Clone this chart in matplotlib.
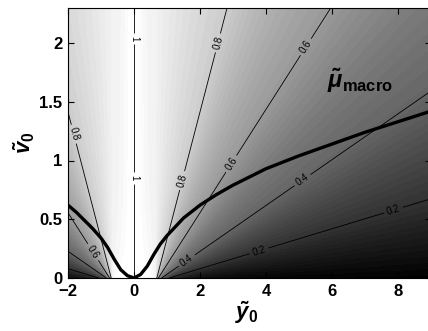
import numpy as np
import matplotlib
matplotlib.use('Agg')
import matplotlib.pyplot as plt

plt.rcParams['font.family'] = ['Liberation Sans', 'DejaVu Sans']
plt.rcParams['font.weight'] = 'bold'
plt.rcParams['mathtext.fontset'] = 'custom'
plt.rcParams['mathtext.rm'] = 'Liberation Sans:bold'
plt.rcParams['mathtext.it'] = 'Liberation Sans:italic:bold'
plt.rcParams['mathtext.bf'] = 'Liberation Sans:bold'

# contour levels of mu_macro and the slope (dv0/dy0) of each contour
LEVELS = [0.2, 0.4, 0.6, 0.8]
LEVEL_SLOPES = [0.085, 0.195, 0.44, 1.08]
# point the contours fan out from (|y0|, v0)
FAN_Y0 = 0.66
FAN_V0 = -0.035
# shade straight above the fan point and next to the y0 = 0 ridge
MU_VERTICAL = 0.94
MU_RIDGE = 1.0
RIDGE_WIDTH = 0.3

# label positions (y0, v0)
LABEL_POS = [(0, 2.04), (0, 0.85), (-1.76, 1.23), (-1.3, 0.21),
             (2.55, 2.0), (1.45, 0.83), (5.03, 2.0), (2.9, 0.98),
             (1.6, 0.15), (5.15, 0.82), (3.76, 0.255), (7.9, 0.55)]

# thick curve
CURVE_Y0 = [-2.0, -1.75, -1.5, -1.25, -1.0, -0.8, -0.6, -0.4, -0.2, 0.0,
            0.2, 0.4, 0.6, 0.8, 1.0, 1.5, 2.0, 2.5, 3.0, 4.0, 5.0, 6.0, 7.0, 8.0, 9.0]
CURVE_V0 = [0.62, 0.56, 0.49, 0.42, 0.34, 0.26, 0.16, 0.07, 0.02, 0.0,
            0.03, 0.10, 0.20, 0.29, 0.36, 0.51, 0.62, 0.71, 0.79, 0.93, 1.04, 1.14, 1.24, 1.33, 1.42]

y0 = np.linspace(-2, 9, 1100)
v0 = np.linspace(0, 2.3, 460)
Y, V = np.meshgrid(y0, v0)
X = np.abs(Y)

theta_pts = [0] + list(np.degrees(np.arctan(LEVEL_SLOPES))) + [90, 180]
mu_pts = [0] + LEVELS + [MU_VERTICAL, MU_RIDGE]
theta = np.degrees(np.arctan2(V - FAN_V0, X - FAN_Y0))
F = np.interp(theta, theta_pts, mu_pts)
g = 1 - np.exp(-(X / RIDGE_WIDTH) ** 2)
mu = 1 - (1 - F) * g
# signed distance from 1 so that the ridge at y0 = 0 gives the "1" contour
S = np.sign(Y) * (1 - mu)

fig = plt.figure(figsize=(4.28, 3.31), dpi=100)
ax = fig.add_axes([68 / 428, 1 - 278 / 331, 363 / 428, 270.25 / 331])

ax.pcolormesh(Y, V, mu, cmap=plt.get_cmap('gray', 64), vmin=0, vmax=1,
              shading='nearest', rasterized=True)

s_levels = sorted([-(1 - l) for l in LEVELS] + [0] + [1 - l for l in LEVELS])
cs = ax.contour(Y, V, S, levels=s_levels, colors='k', linewidths=0.6,
                linestyles='solid')


def fmt(s):
    if abs(s) < 1e-9:
        return '1'
    return f'{1 - abs(s):.1f}'


ax.clabel(cs, manual=LABEL_POS, inline=True, fmt=fmt, fontsize=7,
          inline_spacing=3)
for t in cs.labelTexts:
    t.set_fontweight('normal')

ax.plot(CURVE_Y0, CURVE_V0, color='k', lw=2.4, zorder=5)

ax.text(6.85, 1.68, r'$\tilde{\mu}_{\mathrm{macro}}$', fontsize=17,
        ha='center', va='center')

ax.set_xlim(-2, 9)
ax.set_ylim(0, 2.3)
ax.set_xticks([-2, 0, 2, 4, 6, 8])
ax.set_xticklabels(['\u22122', '0', '2', '4', '6', '8'])
ax.set_yticks([0, 0.5, 1, 1.5, 2])
ax.set_yticklabels(['0', '0.5', '1', '1.5', '2'])
ax.tick_params(direction='in', top=True, right=True, length=4, width=0.8,
               labelsize=12, pad=4)
for sp in ax.spines.values():
    sp.set_linewidth(0.8)

ax.set_xlabel(r'$\tilde{y}_{\mathrm{0}}$', fontsize=16)
ax.set_ylabel(r'$\tilde{v}_{\mathrm{0}}$', fontsize=16)
ax.xaxis.set_label_coords(0.493, -0.08)
ax.yaxis.set_label_coords(-0.085, 0.5)

fig.savefig('out.png', dpi=100)
